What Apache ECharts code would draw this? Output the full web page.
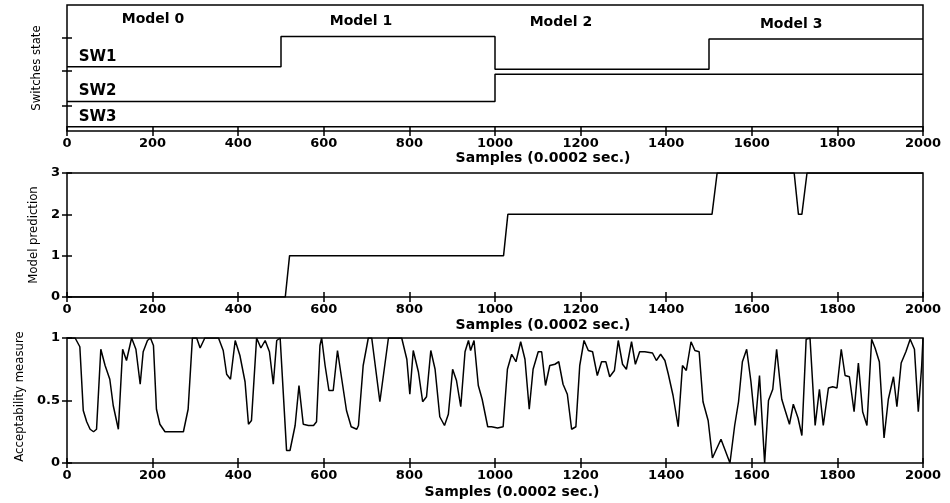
<!DOCTYPE html>
<html>
<head>
<meta charset="utf-8">
<script src="https://cdn.jsdelivr.net/npm/echarts@6/dist/echarts.min.js"></script>
<style>
  html, body { margin: 0; padding: 0; background: #fff; }
  #chart { width: 950px; height: 503px; }
</style>
</head>
<body>
<div id="chart"></div>
<script>
// top panel: switch states (arbitrary vertical scale 0..10)
const switchX = [0, 500, 1000, 1500, 2000];
const sw1 = [5.1, 7.5, 4.9, 7.3, 7.3];
const sw2 = [2.35, 2.35, 4.5, 4.5, 4.5];
const sw3 = [0.33, 0.33, 0.33, 0.33, 0.33];
const swNames = ['SW1', 'SW2', 'SW3'];
const swLabelX = [26, 26, 26];
const swLabelY = [5.85, 3.2, 1.1];
const modelNames = ['Model 0', 'Model 1', 'Model 2', 'Model 3'];
const modelLabelX = [201, 687, 1154, 1692];
const modelLabelY = [8.9, 8.7, 8.6, 8.5];
const switchTicks = [2.0, 4.8, 7.4];

// middle panel: model prediction
const predX = [0, 510, 520, 1020, 1030, 1507, 1519, 1699, 1709, 1717, 1729, 2000];
const predY = [0, 0, 1, 1, 2, 2, 3, 3, 2, 2, 3, 3];

// bottom panel: acceptability measure
const accX = [0, 19, 30, 38, 46, 54, 62, 69, 79, 89, 100, 108, 120, 130, 139, 151, 161, 171, 178, 188,
  195, 202, 209, 217, 229, 272, 283, 293, 303, 311, 322, 354, 365, 373, 382, 393, 404, 416, 424, 431,
  443, 453, 463, 473, 482, 490, 498, 502, 513, 521, 533, 542, 552, 564, 576, 583, 591, 595, 603, 612,
  622, 632, 642, 653, 664, 677, 681, 692, 704, 712, 731, 751, 782, 794, 801, 809, 821, 831, 840, 850,
  860, 871, 882, 891, 901, 910, 920, 930, 938, 943, 951, 961, 970, 983, 992, 1006, 1019, 1029, 1039, 1049,
  1060, 1070, 1080, 1089, 1101, 1109, 1118, 1128, 1140, 1149, 1159, 1169, 1179, 1189, 1198, 1208, 1218, 1228, 1239, 1249,
  1259, 1268, 1279, 1288, 1298, 1307, 1319, 1328, 1338, 1350, 1368, 1377, 1387, 1397, 1405, 1416, 1428, 1438, 1447, 1458,
  1467, 1477, 1486, 1498, 1508, 1528, 1549, 1560, 1569, 1578, 1588, 1598, 1608, 1618, 1630, 1639, 1649, 1658, 1670, 1678,
  1688, 1697, 1708, 1717, 1727, 1736, 1748, 1758, 1767, 1779, 1789, 1799, 1809, 1818, 1828, 1839, 1849, 1859, 1869, 1880,
  1888, 1898, 1909, 1919, 1931, 1939, 1949, 1960, 1970, 1980, 1989, 1997, 2000];
const accY = [1.0, 1.0, 0.93, 0.42, 0.33, 0.27, 0.25, 0.27, 0.91, 0.78, 0.67, 0.46, 0.27, 0.91, 0.82, 1.0, 0.91, 0.63, 0.89, 0.98,
  1.0, 0.94, 0.43, 0.31, 0.25, 0.25, 0.43, 1.0, 1.0, 0.92, 1.0, 1.0, 0.9, 0.71, 0.67, 0.98, 0.86, 0.65, 0.31, 0.34,
  1.0, 0.92, 0.98, 0.89, 0.63, 0.98, 1.0, 1.0, 0.10, 0.10, 0.30, 0.62, 0.31, 0.30, 0.30, 0.33, 0.94, 1.0, 0.78, 0.58,
  0.58, 0.90, 0.67, 0.42, 0.29, 0.27, 0.30, 0.78, 1.0, 1.0, 0.49, 1.0, 1.0, 0.83, 0.55, 0.90, 0.73, 0.49, 0.53, 0.90,
  0.75, 0.37, 0.30, 0.39, 0.75, 0.66, 0.45, 0.89, 0.98, 0.90, 0.98, 0.62, 0.51, 0.29, 0.29, 0.28, 0.29, 0.75, 0.87, 0.81,
  0.97, 0.83, 0.43, 0.75, 0.89, 0.89, 0.62, 0.78, 0.79, 0.81, 0.63, 0.55, 0.27, 0.29, 0.78, 0.98, 0.90, 0.89, 0.70, 0.81,
  0.81, 0.69, 0.74, 0.98, 0.79, 0.75, 0.97, 0.79, 0.89, 0.89, 0.88, 0.82, 0.87, 0.82, 0.71, 0.54, 0.29, 0.78, 0.74, 0.97,
  0.90, 0.89, 0.49, 0.34, 0.04, 0.19, 0.0, 0.30, 0.49, 0.81, 0.91, 0.65, 0.30, 0.70, 0.0, 0.50, 0.59, 0.91, 0.51, 0.42,
  0.31, 0.47, 0.36, 0.22, 0.99, 1.0, 0.30, 0.59, 0.30, 0.60, 0.61, 0.60, 0.91, 0.70, 0.69, 0.41, 0.80, 0.41, 0.30, 0.99,
  0.92, 0.81, 0.20, 0.51, 0.69, 0.45, 0.80, 0.89, 0.99, 0.91, 0.41, 0.78, 1.0];

const xTitle = 'Samples (0.0002 sec.)';

const boldFont = 'DejaVu Sans';
const narrowFont = "'DejaVu Sans Condensed', 'Liberation Sans Narrow', sans-serif";

const grids = [
  { left: 67, top: 5, width: 856, height: 126 },
  { left: 67, top: 173, width: 856, height: 124 },
  { left: 67, top: 338, width: 856, height: 125 }
].map(g => Object.assign(g, { show: true, borderColor: '#000', borderWidth: 1.5, backgroundColor: '#fff' }));

function pairs(xs, ys) {
  return xs.map((x, i) => [x, ys[i]]);
}

function plain(v) {
  return String(v);
}

function xAxes(gi, namePad, nameGap) {
  const tick = { show: true, inside: true, length: 5, lineStyle: { color: '#000', width: 1.5 } };
  return [
    {
      gridIndex: gi, type: 'value', min: 0, max: 2000, interval: 200,
      axisLine: { show: false }, axisTick: tick, splitLine: { show: false },
      axisLabel: { color: '#000', fontFamily: boldFont, fontWeight: 'bold', fontSize: 13, margin: 6, formatter: plain },
      name: xTitle, nameLocation: 'middle', nameGap: nameGap,
      nameTextStyle: { color: '#000', fontFamily: boldFont, fontWeight: 'bold', fontSize: 14, padding: [0, 0, 0, namePad] }
    },
    {
      gridIndex: gi, type: 'value', position: 'top', min: 0, max: 2000, interval: 200,
      axisLine: { show: false }, axisTick: tick, splitLine: { show: false }, axisLabel: { show: false }
    }
  ];
}

function yAxes(gi, opts) {
  const tick = Object.assign({ show: true, inside: true, length: 5, lineStyle: { color: '#000', width: 1.5 } }, opts.tick || {});
  return [
    Object.assign({
      gridIndex: gi, type: 'value', min: opts.min, max: opts.max,
      axisLine: { show: false }, axisTick: tick, splitLine: { show: false },
      axisLabel: Object.assign({ color: '#000', fontFamily: boldFont, fontWeight: 'bold', fontSize: 13, margin: 7 }, opts.label || {}),
      name: opts.name, nameLocation: 'middle', nameGap: opts.nameGap,
      nameTextStyle: { color: '#000', fontFamily: narrowFont, fontSize: 13, padding: opts.namePad || 0 }
    }, opts.interval ? { interval: opts.interval } : {}),
    Object.assign({
      gridIndex: gi, type: 'value', position: 'right', min: opts.min, max: opts.max,
      axisLine: { show: false }, axisTick: tick, splitLine: { show: false }, axisLabel: { show: false }
    }, opts.interval ? { interval: opts.interval } : {})
  ];
}

const lineStyle = { color: '#000', width: 1.5 };
const labelDot = { color: 'rgba(0,0,0,0)', opacity: 1 };

const chart = echarts.init(document.getElementById('chart'));
chart.setOption({
  animation: false,
  backgroundColor: '#fff',
  grid: grids,
  xAxis: [].concat(xAxes(0, 96, 19), xAxes(1, 96, 21), xAxes(2, 34, 22)),
  yAxis: [].concat(
    yAxes(0, { min: 0, max: 10, name: 'Switches state', nameGap: 24,
      tick: { customValues: switchTicks }, label: { show: false } }),
    yAxes(1, { min: 0, max: 3, interval: 1, name: 'Model prediction', nameGap: 24 }),
    yAxes(2, { min: 0, max: 1, interval: 0.5, name: 'Acceptability measure', nameGap: 36, namePad: [0, 0, 0, 8] })
  ),
  series: [
    { type: 'line', xAxisIndex: 0, yAxisIndex: 0, step: 'end', data: pairs(switchX, sw1), showSymbol: false, lineStyle },
    { type: 'line', xAxisIndex: 0, yAxisIndex: 0, step: 'end', data: pairs(switchX, sw2), showSymbol: false, lineStyle },
    { type: 'line', xAxisIndex: 0, yAxisIndex: 0, step: 'end', data: pairs(switchX, sw3), showSymbol: false, lineStyle },
    {
      type: 'scatter', xAxisIndex: 0, yAxisIndex: 0, symbolSize: 1, itemStyle: labelDot,
      data: modelNames.map((n, i) => ({ name: n, value: [modelLabelX[i], modelLabelY[i]] })),
      label: { show: true, position: 'inside', formatter: '{b}', color: '#000', opacity: 1, textBorderWidth: 0,
        fontFamily: boldFont, fontWeight: 'bold', fontSize: 14 }
    },
    {
      type: 'scatter', xAxisIndex: 0, yAxisIndex: 0, symbolSize: 1, itemStyle: labelDot,
      data: swNames.map((n, i) => ({ name: n, value: [swLabelX[i], swLabelY[i]] })),
      label: { show: true, position: 'right', distance: 0, formatter: '{b}', color: '#000', opacity: 1,
        fontFamily: boldFont, fontWeight: 'bold', fontSize: 15 }
    },
    { type: 'line', xAxisIndex: 2, yAxisIndex: 2, data: pairs(predX, predY), showSymbol: false, lineStyle },
    { type: 'line', xAxisIndex: 4, yAxisIndex: 4, data: pairs(accX, accY), showSymbol: false, lineStyle }
  ]
});
</script>
</body>
</html>
